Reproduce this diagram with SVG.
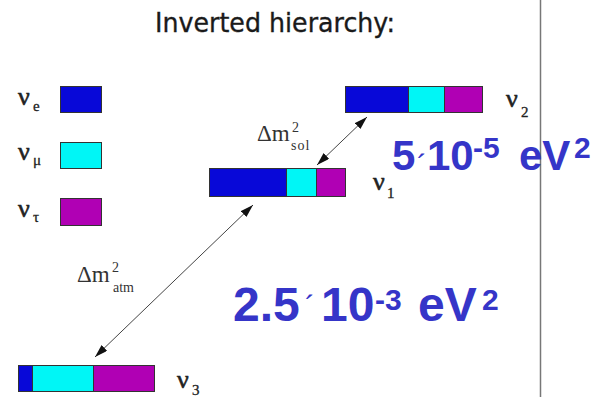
<svg xmlns="http://www.w3.org/2000/svg" width="600" height="397" viewBox="0 0 600 397">
  <style>
    .title{font-family:"DejaVu Sans",sans-serif;font-size:27px;fill:#1a1a1a;stroke:#1a1a1a;stroke-width:0.35}
    .nu{font-family:"Liberation Serif",serif;font-size:26px;fill:#222;stroke:#222;stroke-width:0.6}
    .sub{font-family:"Liberation Serif",serif;font-size:15px;fill:#222;stroke:#222;stroke-width:0.3}
    .lab{font-family:"Liberation Serif",serif;font-size:23px;fill:#333}
    .lsm{font-family:"Liberation Serif",serif;font-size:14px;fill:#333}
    .big{font-family:"Liberation Sans",Arial,sans-serif;font-weight:bold;fill:#3535c8}
    .acc{font-family:"Liberation Sans",Arial,sans-serif;fill:#3535c8}
    .e{fill:#0808d8;stroke:#333;stroke-width:1}
    .m{fill:#00f6f6;stroke:#333;stroke-width:1}
    .t{fill:#b000b4;stroke:#333;stroke-width:1}
    .conn{stroke:#444;stroke-width:1;fill:none}
  </style>
  <defs>
    <marker id="ah" markerUnits="userSpaceOnUse" markerWidth="14" markerHeight="10" refX="13" refY="4" orient="auto-start-reverse">
      <path d="M0,0 L13,4 L0,8 z" fill="#111"/>
    </marker>
  </defs>
  <rect width="600" height="397" fill="#fff"/>
  <line x1="540.5" y1="0" x2="540.5" y2="397" stroke="#777" stroke-width="1.5"/>

  <text id="title" class="title" x="155" y="32" textLength="240" lengthAdjust="spacingAndGlyphs">Inverted hierarchy:</text>

  <g id="legend-e">
    <text class="nu" x="18" y="105">ν</text><text class="sub" x="33" y="111">e</text>
    <rect class="e" x="60.5" y="86.5" width="41" height="26"/>
  </g>
  <g id="legend-mu">
    <text class="nu" x="18" y="160">ν</text><text class="sub" x="33" y="165">μ</text>
    <rect class="m" x="60.5" y="142.5" width="41" height="26"/>
  </g>
  <g id="legend-tau">
    <text class="nu" x="18" y="217">ν</text><text class="sub" x="33" y="222">τ</text>
    <rect class="t" x="60.5" y="198.5" width="41" height="27"/>
  </g>

  <g id="nu2">
    <rect class="e" x="345.5" y="86.5" width="63" height="26"/>
    <rect class="m" x="408.5" y="86.5" width="36" height="26"/>
    <rect class="t" x="444.5" y="86.5" width="38" height="26"/>
    <text class="nu" x="506" y="107">ν</text><text class="sub" x="521" y="117">2</text>
  </g>
  <g id="nu1">
    <rect class="e" x="209.5" y="168.5" width="77" height="28"/>
    <rect class="m" x="286.5" y="168.5" width="30" height="28"/>
    <rect class="t" x="316.5" y="168.5" width="29" height="28"/>
    <text class="nu" x="373" y="190">ν</text><text class="sub" x="387" y="198">1</text>
  </g>
  <g id="nu3">
    <rect class="e" x="18.5" y="365.5" width="14" height="26"/>
    <rect class="m" x="32.5" y="365.5" width="61" height="26"/>
    <rect class="t" x="93.5" y="365.5" width="61" height="26"/>
    <text class="nu" x="177" y="388">ν</text><text class="sub" x="192" y="395">3</text>
  </g>

  <g id="connectors">
    <line class="conn" x1="317" y1="165" x2="367" y2="117" marker-start="url(#ah)" marker-end="url(#ah)"/>
    <line class="conn" x1="95" y1="357" x2="253" y2="205" marker-start="url(#ah)" marker-end="url(#ah)"/>
  </g>

  <g id="label-sol">
    <text class="lab" x="257" y="141">Δm</text>
    <text class="lsm" x="292" y="132">2</text>
    <text class="lsm" x="291" y="150" letter-spacing="1">sol</text>
  </g>
  <g id="label-atm">
    <text class="lab" x="77" y="282">Δm</text>
    <text class="lsm" x="112" y="272">2</text>
    <text class="lsm" x="113" y="292">atm</text>
  </g>

  <g id="value-sol">
    <text class="big" x="392" y="170" font-size="42">5</text>
    <text class="acc" x="417" y="175" font-size="30">´</text>
    <text class="big" x="427" y="170" font-size="42">10</text>
    <text class="big" x="473" y="158" font-size="30">-5</text>
    <text class="big" x="519" y="170" font-size="42">eV</text>
    <text class="big" x="574" y="158" font-size="30">2</text>
  </g>
  <g id="value-atm">
    <text class="big" x="233" y="321" font-size="48">2.5</text>
    <text class="acc" x="305" y="316" font-size="30">´</text>
    <text class="big" x="321" y="321" font-size="48">10</text>
    <text class="big" x="375" y="310" font-size="30">-3</text>
    <text class="big" x="418" y="321" font-size="48">eV</text>
    <text class="big" x="482" y="310" font-size="30">2</text>
  </g>
</svg>
